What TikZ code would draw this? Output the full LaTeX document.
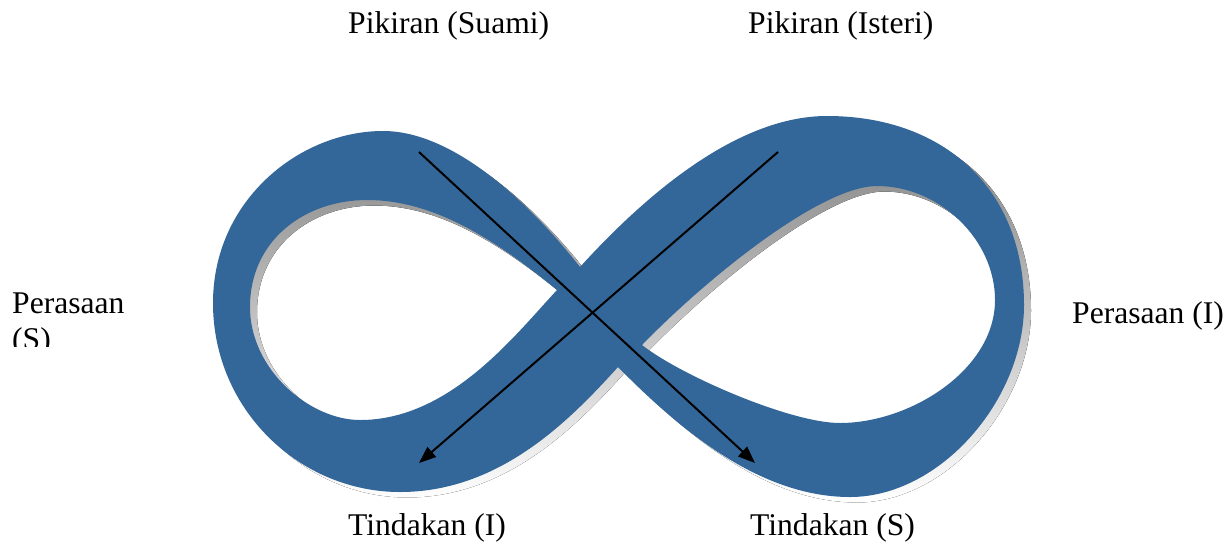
\documentclass[tikz,border=0pt]{standalone}
\usepackage{fontspec}
\setmainfont{Liberation Serif}
\usetikzlibrary{arrows.meta}
\definecolor{ribbon}{RGB}{51,103,153}
\definecolor{shade}{RGB}{192,192,192}
\newcommand\infshape[1]{%
\fill[#1] (580,267) .. controls (540,216) and (460,131) .. (383,131)
 .. controls (300,131) and (213,200) .. (213,303)
 .. controls (213,410) and (300,492) .. (400,492)
 .. controls (500,492) and (570,420) .. (618,367)
 .. controls (680,430) and (760,497) .. (850,497)
 .. controls (940,497) and (1024,400) .. (1024,305)
 .. controls (1024,190) and (945,116) .. (827,116)
 .. controls (740,116) and (650,190) .. (580,267) -- cycle
 (557,290) .. controls (490,235) and (430,200) .. (367,200)
 .. controls (305,200) and (250,240) .. (250,307)
 .. controls (250,370) and (310,420) .. (360,420)
 .. controls (450,420) and (515,335) .. (557,290) -- cycle
 (642,345) .. controls (705,280) and (820,186) .. (877,186)
 .. controls (940,186) and (995,240) .. (995,300)
 .. controls (995,370) and (910,423) .. (840,423)
 .. controls (790,423) and (680,375) .. (642,345) -- cycle;}
\begin{document}
\begin{tikzpicture}[x=1pt,y=-1pt,
  txt/.style={anchor=base west, inner sep=0pt, font=\fontsize{31.6}{36.4}\selectfont},
  conn/.style={line width=2pt, -{Triangle[length=17pt,width=13pt]}}]
\useasboundingbox[fill=white] (0,0) rectangle (1230,542);
\begin{scope}[shift={(7,5.5)}]
\infshape{shade, even odd rule}
\end{scope}
\infshape{ribbon, even odd rule}
\coordinate (s1) at (419,152);
\coordinate (e1) at (755,463);
\coordinate (s2) at (778,152);
\coordinate (e2) at (419,463);
\draw[conn] (s1) -- (e1);
\draw[conn] (s2) -- (e2);
\node[txt] (ps) at (348,33.5) {Pikiran (Suami)};
\node[txt] (pi) at (748,33.5) {Pikiran (Isteri)};
\node[txt] (pri) at (1072,323) {Perasaan (I)};
\node[txt] (ti) at (348,535) {Tindakan (I)};
\node[txt] (ts) at (750,535) {Tindakan (S)};
\begin{scope}
\clip (0,270) rectangle (200,346);
\node[txt, align=left] (prs) at (12,349.5) {Perasaan\\(S)};
\end{scope}
\end{tikzpicture}
\end{document}
